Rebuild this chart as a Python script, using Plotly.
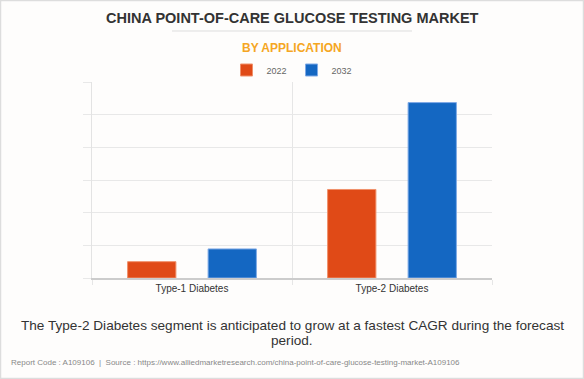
import plotly.graph_objects as go

categories = ["Type-1 Diabetes", "Type-2 Diabetes"]
years = ["2022", "2032"]
values_2022 = [50, 271]
values_2032 = [89, 537]

colors = {"2022": "#E04A17", "2032": "#1467C2"}
borders = {"2022": "#F0906A", "2032": "#7FAAE6"}

W, H = 584, 379
L, R, T, B = 92, 92, 82, 101
PW, PH = W - L - R, H - T - B

def px(x):
    return (x - L) / PW

def py(y):
    return 1 + (T - y) / PH

fig = go.Figure()
for yr, vals in zip(years, [values_2022, values_2032]):
    fig.add_trace(go.Bar(
        x=categories, y=vals, name=yr,
        marker=dict(color=colors[yr], line=dict(color=borders[yr], width=1)),
        hoverinfo="skip",
    ))

FONT = "Liberation Sans, Arial, sans-serif"
fig.update_layout(
    width=W, height=H,
    margin=dict(l=L, r=R, t=T, b=B),
    paper_bgcolor="#FEFDFC", plot_bgcolor="#FEFDFC",
    barmode="group", bargap=0.195, bargroupgap=0.4,
    font=dict(family=FONT, color="#333333"),
    showlegend=True,
    legend=dict(orientation="h", x=0.5, xanchor="center", y=py(70), yanchor="middle",
                font=dict(size=9, color="#666666"), bgcolor="rgba(0,0,0,0)",
                itemwidth=30, tracegroupgap=0),
    xaxis=dict(range=[-0.5, 1.5], tickson="boundaries", showgrid=True, gridcolor="#E6E6E6",
               ticks="outside", ticklen=5, tickcolor="#E6E6E6",
               showline=True, linecolor="#CCCCCC", linewidth=1.5,
               tickfont=dict(size=10, color="#333333"), fixedrange=True),
    yaxis=dict(range=[0, 600], dtick=100, showgrid=True, gridcolor="#E8E8E8",
               showticklabels=False, ticks="outside", ticklen=8, tickcolor="#E8E8E8",
               showline=True, linecolor="#E3E3E3", zeroline=False, fixedrange=True),
)

annotations = [
    dict(text="<b>CHINA POINT-OF-CARE GLUCOSE TESTING MARKET</b>", x=0.5, y=py(18),
         font=dict(size=14.5, color="#333333", family=FONT)),
    dict(text="<b>BY APPLICATION</b>", x=0.5, y=py(47.5),
         font=dict(size=12, color="#F5A623", family=FONT)),
    dict(text="The Type-2 Diabetes segment is anticipated to grow at a fastest CAGR during the forecast",
         x=0.5, y=py(325), font=dict(size=13.6, color="#333333", family=FONT)),
    dict(text="period.", x=0.5, y=py(340), font=dict(size=13.6, color="#333333", family=FONT)),
    dict(text="Report Code : A109106  |  Source : https://www.alliedmarketresearch.com/china-point-of-care-glucose-testing-market-A109106",
         x=px(9), xanchor="left", y=py(362), font=dict(size=8, color="#888888", family=FONT)),
]
for a in annotations:
    a.setdefault("xanchor", "center")
    a.update(xref="paper", yref="paper", yanchor="middle", showarrow=False)
    fig.add_annotation(**a)

fig.add_shape(type="line", xref="paper", yref="paper", x0=px(172), x1=px(412),
              y0=py(31), y1=py(31), line=dict(color="#DDDDDD", width=1))
fig.add_shape(type="rect", xref="paper", yref="paper", x0=px(0.5), x1=px(583.5),
              y0=py(378.5), y1=py(0.5), line=dict(color="#DDDDDD", width=1.5),
              layer="below")

fig.write_html("out.html", config={"displayModeBar": False},
               post_script="document.body.style.margin='0';document.body.style.overflow='hidden';")
